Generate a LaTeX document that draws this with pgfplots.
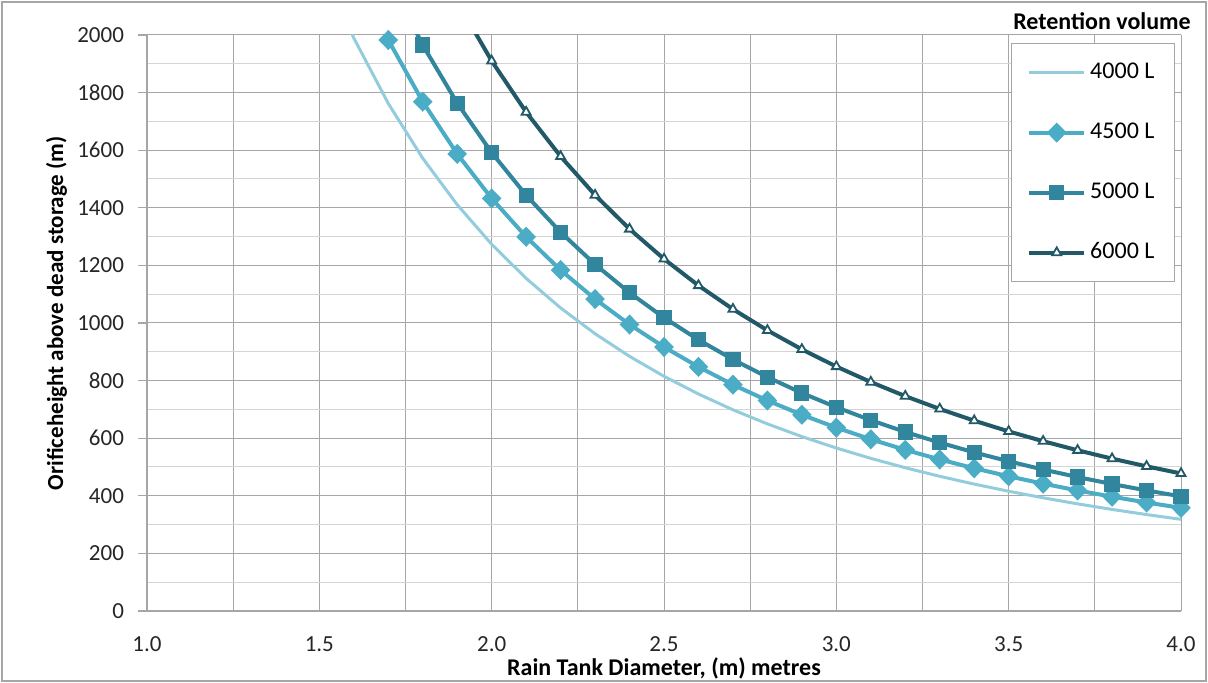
\documentclass[border=0pt]{standalone}
\usepackage{pgfplots}
\pgfplotsset{compat=1.18}
\usepackage{fontspec}
\setmainfont{Carlito}
\definecolor{cA}{HTML}{93CDDD}
\definecolor{cB}{HTML}{4BACC6}
\definecolor{cC}{HTML}{31859C}
\definecolor{cD}{HTML}{215968}
\definecolor{gridc}{HTML}{A6A6A6}
\definecolor{gridm}{HTML}{D4D4D4}
\begin{document}
\begin{tikzpicture}[x=1pt,y=1pt]
\path[use as bounding box] (0,0) rectangle (604,341.5);
\draw[gray!70, line width=1pt] (1,1) rectangle (603,340.5);
\begin{axis}[
  at={(73.5pt,36pt)}, anchor=south west,
  scale only axis, width=517pt, height=288pt,
  xmin=1, xmax=4, ymin=0, ymax=2000,
  xtick={1,1.5,...,4}, minor xtick={1.25,1.75,...,3.75},
  ytick={0,200,...,2000}, minor ytick={100,300,...,1900},
  xticklabels={1.0,1.5,2.0,2.5,3.0,3.5,4.0},
  /pgf/number format/assume math mode=true,
  /pgf/number format/.cd, 1000 sep={}, /pgfplots/.cd,
  tick label style={font=\fontsize{11.5}{13}\selectfont, text=black!85},
  grid=both,
  major grid style={gridc, line width=0.5pt},
  minor grid style={gridm, line width=0.5pt},
  minor x grid style={gridc, line width=0.5pt},
  axis line style={gridc, line width=0.6pt},
  axis x line*=bottom, axis y line*=left,
  x axis line style={-}, y axis line style={-},
  xtick style={draw=none}, minor tick style={draw=none},
  ytick style={gridc, line width=0.6pt},
  major tick length=4.5pt, tick align=outside,
  xticklabel style={inner sep=0pt, yshift=-8pt},
  yticklabel style={xshift=-3.5pt},
  xlabel={Rain Tank Diameter, (m) metres},
  ylabel={Orificeheight above dead storage (m)},
  every axis x label/.style={at={(axis description cs:0.5,0)}, anchor=base, yshift=-32.5pt,
     inner sep=0.5pt, font=\bfseries\fontsize{12}{14}\selectfont},
  every axis y label/.style={at={(axis description cs:-0.0812,0.517)}, rotate=90, anchor=base,
     font=\bfseries\fontsize{11.5}{13}\selectfont},
  legend style={at={(rel axis cs:0.9942,0.9861)}, anchor=north east, draw=gridc, fill=white,
    font=\fontsize{12}{14}\selectfont, row sep=17pt, inner xsep=8pt, inner ysep=8pt,
    line width=0.6pt,
    nodes={text height=8.5pt, text depth=2.5pt, inner ysep=1pt, inner xsep=2pt}},
  legend cell align=left,
  legend image code/.code={\draw[#1] (0pt,0pt) -- (27.5pt,0pt); \draw[#1, mark repeat=2, mark phase=2] plot coordinates {(0pt,0pt) (13.75pt,0pt) (27.5pt,0pt)};},
]
\addplot[cA, line width=1.5pt, no marks] coordinates {
(1.5,2263.5)(1.6,1989.4)(1.7,1762.3)(1.8,1571.9)(1.9,1410.8)(2.0,1273.2)(2.1,1154.9)(2.2,1052.3)(2.3,962.7)(2.4,884.2)(2.5,814.9)(2.6,753.4)(2.7,698.6)(2.8,649.6)(2.9,605.6)(3.0,565.9)(3.1,530.0)(3.2,497.4)(3.3,467.7)(3.4,440.6)(3.5,415.8)(3.6,393.0)(3.7,372.0)(3.8,352.7)(3.9,334.8)(4.0,318.3)};
\addlegendentry{4000 L}
\addplot[cB, line width=2pt, mark=diamond*, mark size=3.6pt, mark options={xscale=1.3, solid}] coordinates {
(1.7,1982.6)(1.8,1768.4)(1.9,1587.1)(2.0,1432.4)(2.1,1299.2)(2.2,1183.8)(2.3,1083.1)(2.4,994.7)(2.5,916.7)(2.6,847.6)(2.7,785.9)(2.8,730.8)(2.9,681.3)(3.0,636.6)(3.1,596.2)(3.2,559.5)(3.3,526.1)(3.4,495.6)(3.5,467.7)(3.6,442.1)(3.7,418.5)(3.8,396.8)(3.9,376.7)(4.0,358.1)};
\addlegendentry{4500 L}
\addplot[cC, line width=2pt, mark=square*, mark size=2.8pt, mark options={solid}] coordinates {
(1.7,2202.8)(1.8,1964.9)(1.9,1763.5)(2.0,1591.5)(2.1,1443.6)(2.2,1315.3)(2.3,1203.4)(2.4,1105.2)(2.5,1018.6)(2.6,941.7)(2.7,873.3)(2.8,812.0)(2.9,757.0)(3.0,707.4)(3.1,662.5)(3.2,621.7)(3.3,584.6)(3.4,550.7)(3.5,519.7)(3.6,491.2)(3.7,465.0)(3.8,440.9)(3.9,418.6)(4.0,397.9)};
\addlegendentry{5000 L}
\addplot[cD, line width=2pt, mark=triangle*, mark size=2.6pt, mark options={solid, fill=white, draw=cD, line width=0.9pt}] coordinates {
(1.9,2116.2)(2.0,1909.9)(2.1,1732.3)(2.2,1578.4)(2.3,1444.1)(2.4,1326.3)(2.5,1222.3)(2.6,1130.1)(2.7,1047.9)(2.8,974.4)(2.9,908.4)(3.0,848.8)(3.1,794.9)(3.2,746.0)(3.3,701.5)(3.4,660.8)(3.5,623.6)(3.6,589.5)(3.7,558.0)(3.8,529.0)(3.9,502.3)(4.0,477.5)};
\addlegendentry{6000 L}
\end{axis}
\node[font=\bfseries\fontsize{12}{14}\selectfont] at (551,331) {Retention volume};
\end{tikzpicture}
\end{document}
